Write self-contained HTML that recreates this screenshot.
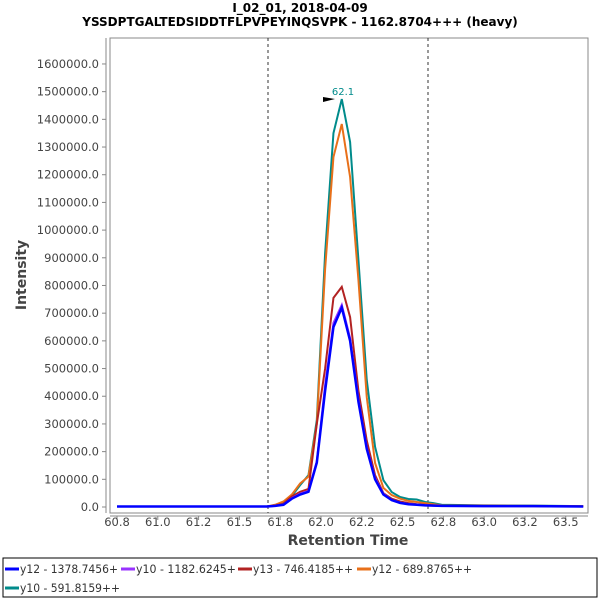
<!DOCTYPE html>
<html><head><meta charset="utf-8"><style>
body{margin:0;background:#fff;width:600px;height:600px;overflow:hidden;font-family:"Liberation Sans","DejaVu Sans",sans-serif}
</style></head><body>
<svg id="chart" width="600" height="600" xmlns="http://www.w3.org/2000/svg" font-family="DejaVu Sans, Liberation Sans, sans-serif">
<text x="300" y="12" text-anchor="middle" font-size="12" font-weight="bold">I_02_01, 2018-04-09</text>
<text x="300" y="26" text-anchor="middle" font-size="12" font-weight="bold">YSSDPTGALTEDSIDDTFLPVPEYINQSVPK - 1162.8704+++ (heavy)</text>
<rect x="110" y="38" width="478" height="475" fill="#fff" stroke="#888" stroke-width="1"/>
<line x1="106" y1="38" x2="106" y2="513" stroke="#888"/>
<line x1="110" y1="516" x2="588" y2="516" stroke="#888"/>
<g id="yaxis"></g>
<g id="xaxis"></g>
<text transform="translate(26,275) rotate(-90)" text-anchor="middle" font-size="14" font-weight="bold" fill="#444">Intensity</text>
<text x="348" y="545" text-anchor="middle" font-size="14" font-weight="bold" fill="#444">Retention Time</text>
<line x1="268" y1="38" x2="268" y2="513" stroke="#333" stroke-dasharray="3,3"/>
<line x1="428" y1="38" x2="428" y2="513" stroke="#333" stroke-dasharray="3,3"/>
<g id="series"></g>
<g>
<polygon points="323,97 335,99 323,102" fill="#000"/>
<text x="343" y="95" text-anchor="middle" font-size="10" fill="#008b8b">62.1</text>
</g>
<g>
<rect x="3" y="558" width="594" height="39" fill="#fff" stroke="#000"/>
</g>
<g id="legend"></g>
</svg>
<script>
const times=[60.8,61.7,61.75,61.8,61.85,61.9,61.95,62.0,62.05,62.1,62.15,62.2,62.25,62.3,62.35,62.4,62.45,62.5,62.55,62.6,62.65,62.7,62.75,63.0,63.3,63.6];
const y12a=[2000,2000,4000,8000,30000,45000,55000,160000,420000,650000,720000,600000,380000,210000,100000,45000,25000,15000,10000,8000,6000,5000,4000,3000,3000,2000];
const y10a=[2000,2000,4000,9000,32000,48000,58000,165000,440000,665000,730000,610000,390000,215000,105000,48000,26000,16000,11000,9000,7000,5000,4000,3000,3000,2000];
const y13=[2000,2000,5000,12000,38000,55000,65000,300000,500000,755000,795000,686000,420000,240000,115000,50000,30000,20000,14000,10000,8000,6000,5000,4000,3000,2000];
const y12b=[2000,2000,8000,20000,45000,85000,110000,300000,860000,1264000,1383000,1192000,820000,397000,159000,69000,43000,30000,22000,18000,14000,10000,6000,5000,4000,3000];
const y10b=[2000,2000,6000,14000,40000,79000,115000,314000,917000,1350000,1473000,1318000,892000,459000,217000,97000,54000,36000,29000,27000,18000,14000,8000,6000,5000,3000];
const seriesNames=["y12 - 1378.7456+","y10 - 1182.6245+","y13 - 746.4185++","y12 - 689.8765++","y10 - 591.8159++"];
const seriesColors=["#0000ff","#9933ff","#b22222","#e8701a","#008b8b"];
const seriesData=[y12a,y10a,y13,y12b,y10b];
const yTicks=[0,100000,200000,300000,400000,500000,600000,700000,800000,900000,1000000,1100000,1200000,1300000,1400000,1500000,1600000];
const xTickVals=[60.8,61.045,61.29,61.535,61.78,62.025,62.27,62.515,62.76,63.005,63.25,63.495];
const xTickLabels=["60.8","61.0","61.2","61.5","61.8","62.0","62.2","62.5","62.8","63.0","63.2","63.5"];
const NS="http://www.w3.org/2000/svg";
function X(t){return 117+(t-60.8)*166.5;}
function Y(v){return 507-v*0.0002769;}
const ya=document.getElementById('yaxis');
yTicks.forEach(v=>{
 const l=document.createElementNS(NS,'line');
 l.setAttribute('x1',102);l.setAttribute('x2',106);l.setAttribute('y1',Y(v));l.setAttribute('y2',Y(v));l.setAttribute('stroke','#888');
 
 
 ya.appendChild(l);
 const t=document.createElementNS(NS,'text');
 t.setAttribute('x',99);t.setAttribute('y',Y(v)+4);t.setAttribute('text-anchor','end');t.setAttribute('font-size','11.5');t.setAttribute('fill','#444');
 t.textContent=v.toFixed(1);
 
 
 ya.appendChild(t);
});
const xa=document.getElementById('xaxis');
xTickVals.forEach((v,i)=>{
 const l=document.createElementNS(NS,'line');
 l.setAttribute('x1',X(v));l.setAttribute('x2',X(v));l.setAttribute('y1',516);l.setAttribute('y2',520);l.setAttribute('stroke','#888');
 
 
 xa.appendChild(l);
 const t=document.createElementNS(NS,'text');
 t.setAttribute('x',X(v));t.setAttribute('y',526);t.setAttribute('text-anchor','middle');t.setAttribute('font-size','11.5');t.setAttribute('fill','#444');
 t.textContent=xTickLabels[i];
 
 
 xa.appendChild(t);
});
const sg=document.getElementById('series');
[4,3,2,1,0].forEach(si=>{
 const p=document.createElementNS(NS,'polyline');
 p.setAttribute('points',times.map((t,i)=>X(t)+','+Y(seriesData[si][i])).join(' '));
 p.setAttribute('fill','none');p.setAttribute('stroke',seriesColors[si]);p.setAttribute('stroke-width',si==0?2.5:2);
 
 
 sg.appendChild(p);
});
const lg=document.getElementById('legend');
const lx=[5,121,238,357,5],ly=[569,569,569,569,588];
seriesNames.forEach((n,i)=>{
 const l=document.createElementNS(NS,'line');
 l.setAttribute('x1',lx[i]);l.setAttribute('x2',lx[i]+14);l.setAttribute('y1',ly[i]);l.setAttribute('y2',ly[i]);l.setAttribute('stroke',seriesColors[i]);l.setAttribute('stroke-width',3);
 
 
 lg.appendChild(l);
 const t=document.createElementNS(NS,'text');
 t.setAttribute('x',lx[i]+15);t.setAttribute('y',ly[i]+4);t.setAttribute('font-size','11.5');t.setAttribute('fill','#333');
 t.setAttribute('textLength',i==0?98:(i==1?100:(i==2?100:100)));
 t.setAttribute('lengthAdjust','spacingAndGlyphs');
 t.textContent=n;
 
 
 lg.appendChild(t);
});
</script>
</body></html>
